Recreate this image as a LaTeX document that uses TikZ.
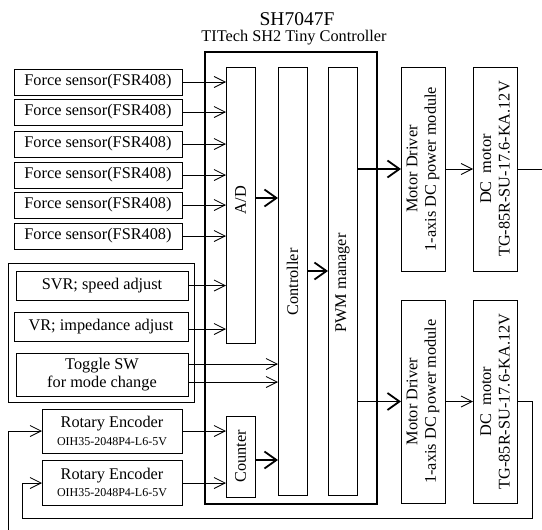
\documentclass[tikz,border=0pt]{standalone}
\usepackage{fontspec}
\setmainfont{Liberation Serif}
\usetikzlibrary{arrows.meta,calc}
\tikzset{
  box/.style={draw, line width=0.8pt, inner sep=0pt, outer sep=0pt, fill=white},
  txt/.style={inner sep=0pt, align=center, font=\fontsize{16.3}{18.5}\selectfont},
  vtxt/.style={txt, rotate=90},
  arr/.style={line width=0.8pt, -{Straight Barb[length=11pt,width=11pt,line width=0.8pt]}},
  tarr/.style={line width=1.8pt, -{Straight Barb[length=12pt,width=17pt,line width=1.8pt]}},
  wire/.style={line width=0.8pt},
}
\begin{document}
\begin{tikzpicture}[x=1pt,y=-1pt]
\useasboundingbox (0,0) rectangle (542,530);
% titles
\node[txt, font=\fontsize{19.5}{22}\selectfont] (title) at (297,19) {SH7047F};
\node[txt] (sub) at (294,38) {TITech SH2 Tiny Controller};
% main box
\node[draw, line width=1.9pt, minimum width=172pt, minimum height=452pt, inner sep=0pt] (main) at (291,278) {};
% sensors
\foreach \i/\y in {1/82,2/112,3/144,4/175,5/205,6/236}{
  \node[box, txt, minimum width=168pt, minimum height=26pt] (fs\i) at (98,\y) {Force sensor(FSR408)};
}
% group
\node[box, minimum width=186pt, minimum height=139pt] (grp) at (101,332.5) {};
\node[box, txt, minimum width=172pt, minimum height=29pt] (svr) at (102,285.5) {SVR; speed adjust};
\node[box, txt, minimum width=174pt, minimum height=29pt] (vr) at (101,326.5) {VR; impedance adjust};
\node[box, txt, minimum width=172pt, minimum height=43pt] (tog) at (102,374.5) {Toggle SW\\for mode change};
% encoders
\node[box, txt, minimum width=140pt, minimum height=44pt] (re1) at (112,431) {Rotary Encoder\\[-1pt]{\fontsize{12}{14}\selectfont OIH35-2048P4-L6-5V}};
\node[box, txt, minimum width=140pt, minimum height=45pt] (re2) at (112,482.5) {Rotary Encoder\\[-1pt]{\fontsize{12}{14}\selectfont OIH35-2048P4-L6-5V}};
% inner blocks
\node[box, minimum width=29pt, minimum height=276pt] (ad) at (240.5,205) {};
\node[vtxt] (adt) at (240.5,200) {A/D};
\node[box, minimum width=29pt, minimum height=428pt] (ctrl) at (292.5,281) {};
\node[vtxt] (ctrlt) at (292.5,282) {Controller};
\node[box, minimum width=29pt, minimum height=428pt] (pwm) at (342.5,281) {};
\node[vtxt] (pwmt) at (342.5,283) {PWM manager};
\node[box, minimum width=29pt, minimum height=81pt] (cnt) at (240.5,456.5) {};
\node[vtxt] (cntt) at (240.5,456.5) {Counter};
% drivers and motors
\node[box, minimum width=44pt, minimum height=204pt] (md1) at (423,169) {};
\node[vtxt] (md1t) at (md1.center) {Motor Driver\\1-axis DC power module};
\node[box, minimum width=44pt, minimum height=203pt] (md2) at (423,401.5) {};
\node[vtxt] (md2t) at (md2.center) {Motor Driver\\1-axis DC power module};
\node[box, minimum width=44pt, minimum height=204pt] (dc1) at (495,169) {};
\node[vtxt] (dc1t) at (dc1.center) {DC\ \ motor\\TG-85R-SU-17.6-KA.12V};
\node[box, minimum width=44pt, minimum height=203pt] (dc2) at (495,401.5) {};
\node[vtxt] (dc2t) at (dc2.center) {DC\ \ motor\\TG-85R-SU-17.6-KA.12V};
% arrows into A/D
\foreach \i in {1,...,6}{ \draw[arr] (fs\i.east) -- (ad.west |- fs\i.east); }
\draw[arr] (svr.east) -- (ad.west |- svr.east);
\coordinate (vro) at (188,329);
\draw[arr] (vro) -- (ad.west |- vro);
\coordinate (tga) at (188,364);
\coordinate (tgb) at (188,382);
\draw[arr] (tga) -- (ctrl.west |- tga);
\draw[arr] (tgb) -- (ctrl.west |- tgb);
\draw[arr] (re1.east) -- (cnt.west |- re1.east);
\coordinate (re2o) at (182,483);
\draw[arr] (re2o) -- (cnt.west |- re2o);
% thick internal
\coordinate (adout) at (255,198);
\draw[tarr] (ad.east |- adout) -- (ctrl.west |- adout);
\coordinate (cntout) at (255,460);
\draw[tarr] (cnt.east |- cntout) -- (ctrl.west |- cntout);
\coordinate (ctrlout) at (307,271);
\draw[tarr] (ctrl.east |- ctrlout) -- (pwm.west |- ctrlout);
\draw[tarr] (pwm.east |- md1.west) -- (md1.west);
\draw[tarr] (pwm.east |- md2.west) -- (md2.west);
% driver to motor
\draw[arr] (md1.east) -- (dc1.west);
\draw[arr] (md2.east) -- (dc2.west);
% feedback
\coordinate (out1) at (542,169);
\draw[wire] (dc1.east) -- (out1);
\coordinate (fbr) at (532,518);
\coordinate (fbl) at (22,518);
\coordinate (re2i) at (42,483);
\draw[arr] (dc2.east) -| (fbr) -- (fbl) |- (re2i);
\coordinate (in1) at (8,530);
\draw[arr] (in1) |- (re1.west);
\end{tikzpicture}
\end{document}
